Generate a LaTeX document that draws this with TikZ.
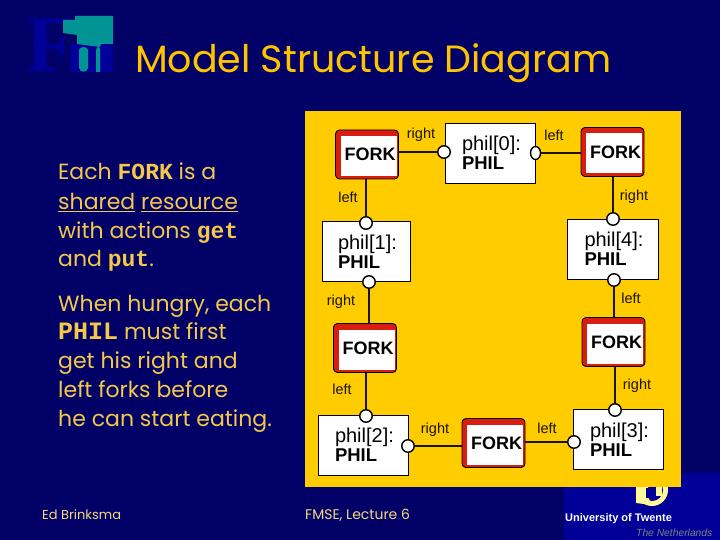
\documentclass[tikz,border=0pt]{standalone}
\usepackage{fontspec}
\usetikzlibrary{shapes.geometric}
\setmainfont{Poppins}
\newfontfamily\arialf{Liberation Sans}
\newfontfamily\courf{Liberation Mono}
\newfontfamily\timesf{Liberation Serif}
\definecolor{bgblue}{HTML}{000066}
\definecolor{logoblue}{HTML}{000099}
\definecolor{teal1}{HTML}{009494}
\definecolor{panel}{HTML}{FFCC00}
\definecolor{txtgold}{HTML}{F5C84B}
\definecolor{forkred}{HTML}{D81E10}
\tikzset{
  x=1pt,y=-1pt,
  forkbox/.style={draw=black,line width=.9pt,fill=forkred,rounded corners=4pt,minimum width=63pt,minimum height=49pt,inner sep=0pt,
    font=\arialf\bfseries\fontsize{18}{18}\selectfont,
    path picture={\fill[white,sharp corners] ([xshift=5pt,yshift=-6pt]path picture bounding box.north west) rectangle ([xshift=-2pt,yshift=3pt]path picture bounding box.south east);}},
  philbox/.style={draw=black,line width=.6pt,fill=white,minimum width=90pt,minimum height=60pt,inner sep=0pt,text width=56pt,align=left,
    font=\arialf\fontsize{20}{19}\selectfont},
  port/.style={circle,draw=black,line width=1.4pt,fill=white,minimum size=12.5pt,inner sep=0pt},
  portnarrow/.style={ellipse,draw=black,line width=1.4pt,fill=white,minimum width=10pt,minimum height=13pt,inner sep=0pt},
  wire/.style={draw=black!90!panel,line width=1.3pt},
  lbl/.style={font=\arialf\fontsize{14.5}{15}\selectfont,text=black!90!panel,inner sep=0pt},
  bodyline/.style={anchor=base west,text=txtgold,inner sep=0pt,font=\fontsize{22}{24}\selectfont},
  foot/.style={anchor=base west,text=txtgold!70!white,inner sep=0pt,font=\fontsize{13}{14}\selectfont},
}
\newcommand{\mon}[2][23]{{\courf\bfseries\fontsize{#1}{24}\selectfont #2}}
\newcommand{\fk}{\hspace*{6pt}FORK}
\newcommand{\ph}{{\bfseries\fontsize{18.5}{19}\selectfont PHIL}}
\begin{document}
\begin{tikzpicture}
\useasboundingbox (0,0) rectangle (720,540);
\fill[bgblue] (0,0) rectangle (720,540);
% FMT logo
\node[anchor=base west,inner sep=0pt,text=logoblue,font=\timesf\bfseries\fontsize{80}{80}\selectfont] (logoF) at (26,72) {F};
\fill[logoblue] (70,44) -- (113,44) -- (113,72) -- (70,72) -- cycle;
\fill[teal1] (63,33) -- (63,20) -- (75,20) -- (75,16) -- (113,16) -- (113,44) -- (101,44) -- (100,47) -- (77,44) -- (77,35) -- cycle;
\fill[teal1] (79,50) .. controls (80,46) and (87,46) .. (88,50) -- (88,68) .. controls (87,73) and (80,73) .. (79,68) -- cycle;
\fill[teal1] (96,50) .. controls (97,46) and (100,46) .. (100,50) -- (100,72) -- (96,72) -- cycle;
% Title
\node[anchor=base west,inner sep=0pt,text=panel!90!orange,font=\fontsize{38}{40}\selectfont] (title) at (135,73) {Model Structure Diagram};
% Left text
\node[bodyline] (t1) at (58,180) {Each \mon{FORK} is a};
\node[bodyline] (t2) at (58,210) {\underline{shared} \underline{resource}};
\node[bodyline] (t3) at (58,238) {with actions \mon{get}};
\node[bodyline] (t4) at (58,266) {and \mon{put}.};
\node[bodyline] (t5) at (58,311) {When hungry, each};
\node[bodyline] (t6) at (58,339) {\mon[25]{PHIL} must first};
\node[bodyline] (t7) at (58,368) {get his right and};
\node[bodyline] (t8) at (58,397) {left forks before};
\node[bodyline] (t9) at (58,426) {he can start eating.};
\node[foot] (f1) at (42,519) {Ed Brinksma};
\node[foot,font=\fontsize{14}{14}\selectfont] (f2) at (305,519) {FMSE, Lecture 6};
% University logo
\fill[logoblue] (564,473) rectangle (720,540);
\fill[yellow!40!white] (652,490) circle (16);
\fill[logoblue] (652,490) circle (11);
\fill[yellow!40!white] (636,485) -- (648,485) -- (648,497) -- (652,505) -- (636,503) -- cycle;
\fill[logoblue] (646,488) rectangle (654,498);
\fill[yellow!40!white] (656,485) rectangle (662,496);
\node[anchor=base west,inner sep=0pt,text=white,font=\arialf\bfseries\fontsize{11}{12}\selectfont] (ut) at (565,521) {University of Twente};
\node[anchor=base west,inner sep=0pt,text=gray,font=\arialf\itshape\fontsize{10.3}{11}\selectfont] (nl) at (636,536) {The Netherlands};
% Panel
\fill[panel] (305,111) rectangle (681,487);
% Forks
\node[forkbox] (fa) at (367,154.5) {\fk};
\node[forkbox] (fb) at (612.5,152) {\fk};
\node[forkbox] (fc) at (365,348) {\fk};
\node[forkbox] (fd) at (613.5,342) {\fk};
\node[forkbox] (fe) at (493.5,443) {\fk};
% Phils
\node[philbox] (p0) at (490,153) {phil[0]:\\\ph};
\node[philbox,minimum width=88pt] (p1) at (366,251.5) {phil[1]:\\\ph};
\node[philbox,minimum width=91pt] (p4) at (612.5,249) {phil[4]:\\\ph};
\node[philbox] (p2) at (363,445) {phil[2]:\\\ph};
\node[philbox] (p3) at (618,439.5) {phil[3]:\\\ph};
% Ports
\node[port] (p0r) at (444,152) {};
\node[portnarrow] (p0l) at (535.5,153) {};
\node[port] (p1l) at (366,223) {};
\node[port] (p1r) at (369,282) {};
\node[port] (p4r) at (613,219) {};
\node[port] (p4l) at (614,280) {};
\node[port] (p2l) at (366,416) {};
\node[port] (p2r) at (408,446) {};
\node[port] (p3r) at (615,410) {};
\node[port] (p3l) at (574,442) {};
% Wires
\draw[wire] (fa.east |- p0r) -- (p0r.west);
\draw[wire] (p0l.east) -- (p0l.east -| fb.west);
\draw[wire] (p1l.north) -- (p1l.north |- fa.south);
\draw[wire] (p4r.north) -- (p4r.north |- fb.south);
\draw[wire] (p1r.south) -- (p1r.south |- fc.north);
\draw[wire] (p4l.south) -- (p4l.south |- fd.north);
\draw[wire] (p2l.north) -- (p2l.north |- fc.south);
\draw[wire] (p3r.north) -- (p3r.north |- fd.south);
\draw[wire] (p2r.east) -- (p2r.east -| fe.west);
\draw[wire] (p3l.west) -- (p3l.west -| fe.east);
% Labels
\node[lbl] (l1) at (421,135) {right};
\node[lbl] (l2) at (554,135) {left};
\node[lbl] (l3) at (348,197) {left};
\node[lbl] (l4) at (634,197) {right};
\node[lbl] (l5) at (341,302) {right};
\node[lbl] (l6) at (631,298) {left};
\node[lbl] (l7) at (342,389) {left};
\node[lbl] (l8) at (637,386) {right};
\node[lbl] (l9) at (435,430) {right};
\node[lbl] (l10) at (547,428) {left};
\end{tikzpicture}
\end{document}
